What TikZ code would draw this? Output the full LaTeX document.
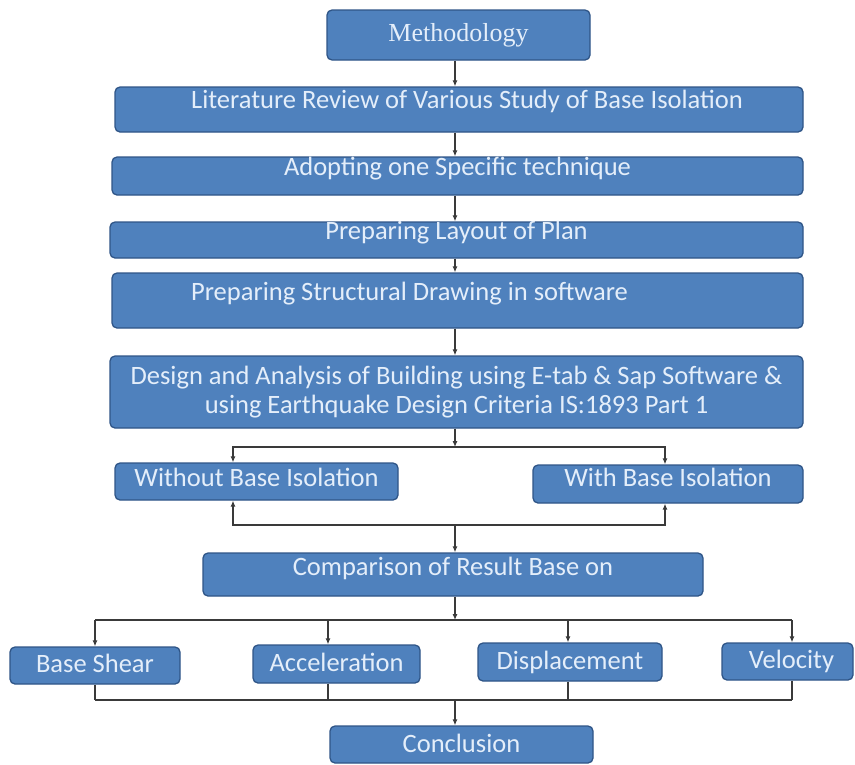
\documentclass[tikz,border=0pt]{standalone}
\usepackage{fontspec}
\setmainfont{Carlito}
\newfontfamily\methfont{Liberation Serif}
\usetikzlibrary{arrows.meta,positioning}
\definecolor{boxfill}{HTML}{4F81BD}
\definecolor{boxline}{HTML}{2F5587}
\definecolor{boxtext}{HTML}{E4EEFA}
\definecolor{wirecol}{HTML}{3A3A3A}

\begin{document}
\begin{tikzpicture}[
  x=1pt, y=-1pt,
  >={Latex[length=6pt,width=5pt]},
  box/.style={draw=boxline, fill=boxfill, rounded corners=5pt, line width=1.3pt, text=boxtext,
    inner sep=0pt, text height=16pt, font=\fontsize{26.5}{29}\selectfont},
  wh/.style 2 args={minimum width=#1pt, minimum height=#2pt},
  lift/.style={text depth=#1pt},
  wire/.style={draw=wirecol, line width=1.1pt}
]
\useasboundingbox (0,0) rectangle (855,764);

\node[box, wh={263}{50}, font=\methfont\fontsize{26}{30}\selectfont, text height=, text depth=] (meth) at (458.5,35) {Methodology};
\node[box, wh={688}{45}, lift=19] (lit) at (459,109.5) {\hspace*{16pt}Literature Review of Various Study of Base Isolation};
\node[box, wh={691}{38}, lift=18] (adopt) at (457.5,176) {Adopting one Specific technique};
\node[box, wh={693}{36}, lift=18] (layout) at (456.5,240) {Preparing Layout of Plan};
\node[box, wh={691}{55}, lift=17] (struct) at (457.5,300.5) {Preparing Structural Drawing in software\hspace*{96pt}};
\node[box, wh={693}{72}, align=center, text height=, text depth=] (design) at (456.5,392)
  {Design and Analysis of Building using E-tab \& Sap Software \&\\using Earthquake Design Criteria IS:1893 Part 1};

\node[box, wh={283}{37}, lift=7] (woiso) at (256.5,481.5) {Without Base Isolation};
\node[box, wh={270}{38}, lift=12] (wiso) at (668,484) {With Base Isolation};
\node[box, wh={500}{43}, lift=15] (comp) at (453,574.5) {Comparison of Result Base on};

\node[box, wh={170}{37}, lift=3] (shear) at (95,665.5) {Base Shear};
\node[box, wh={167}{38}, lift=2] (accel) at (336.5,664) {Acceleration};
\node[box, wh={184}{38}, lift=2] (displ) at (570,662) {Displacement};
\node[box, wh={131}{37}, lift=3] (velo) at (787.5,661.5) {\hspace*{8pt}Velocity};
\node[box, wh={263}{37}, lift=1] (concl) at (461.5,744.5) {Conclusion};

% main spine
\coordinate (axis) at (455,0);
\foreach \a/\b in {meth/lit, lit/adopt, adopt/layout, layout/struct, struct/design}
  \draw[wire,->] (\a.south -| axis) -- (\b.north -| axis);

% with / without
\coordinate (split) at (455,447);
\coordinate (jl) at (233,447);
\coordinate (jr) at (665,447);
\coordinate (merge) at (455,525);
\draw[wire,->] (design.south -| axis) -- (split);
\draw[wire,->] (split) -- (jl) -- (woiso.north -| jl);
\draw[wire,->] (split) -- (jr) -- (wiso.north -| jr);
\draw[wire,<->] (woiso.south -| jl) -- (jl |- merge) -- (jr |- merge) -- (wiso.south -| jr);
\draw[wire,->] (merge) -- (comp.north -| axis);

% results
\foreach \n/\x in {shear/95, accel/328, displ/568, velo/792} {
  \coordinate (\n-in) at (\x,620);
  \coordinate (\n-out) at (\x,700);
  \draw[wire,->] (\n-in) -- (\n.north -| \n-in);
  \draw[wire] (\n.south -| \n-out) -- (\n-out);
}
\draw[wire] (shear-in) -- (velo-in);
\draw[wire] (shear-out) -- (velo-out);
\draw[wire,->] (comp.south -| axis) -- (axis |- shear-in);
\draw[wire,->] (axis |- shear-out) -- (concl.north -| axis);
\end{tikzpicture}
\end{document}
